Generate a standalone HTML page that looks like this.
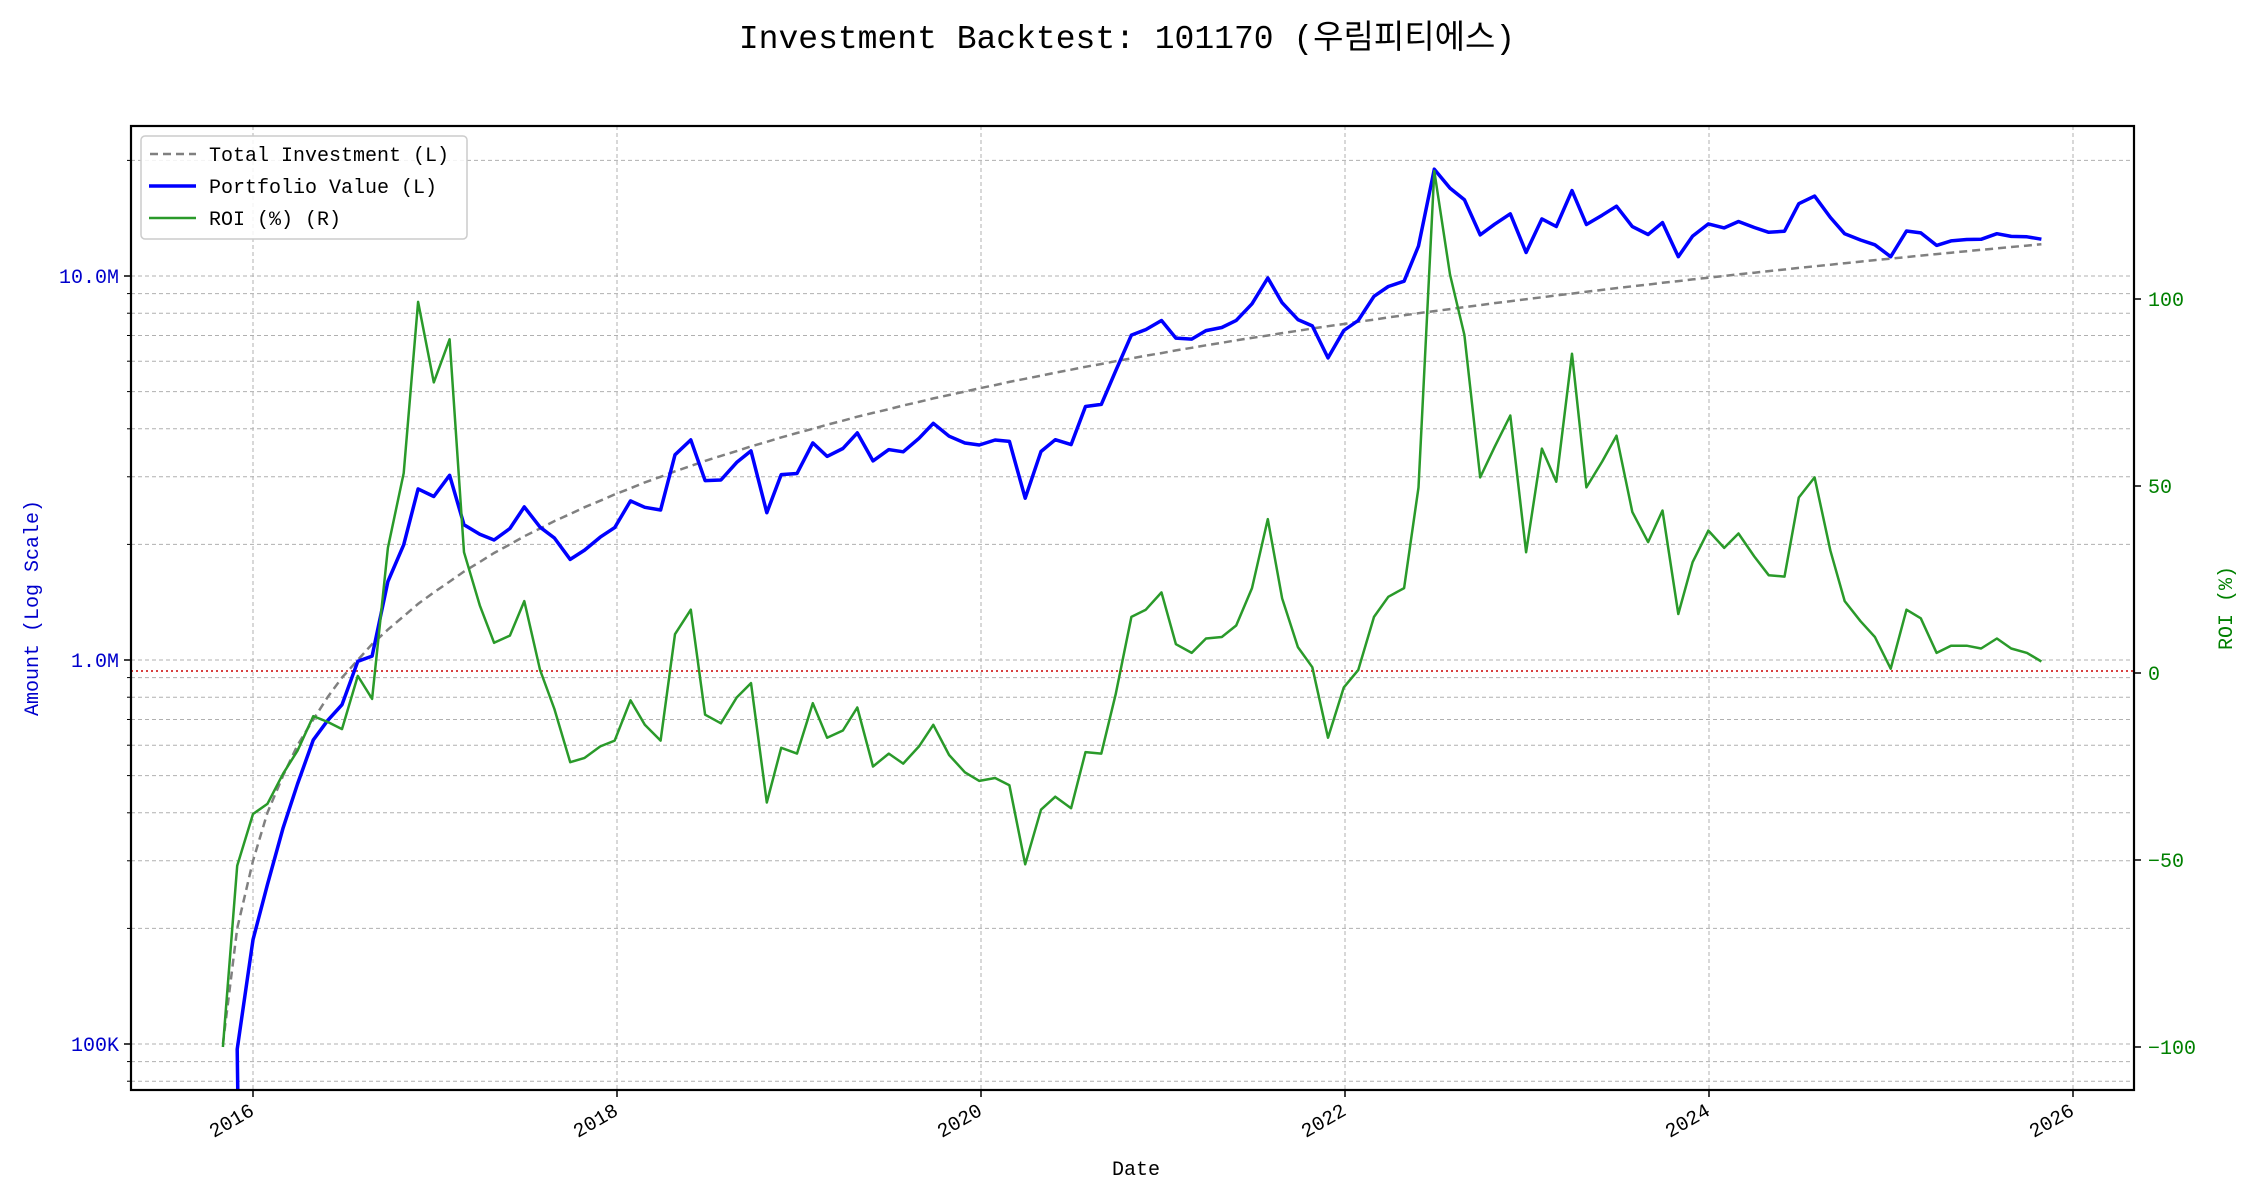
<!DOCTYPE html>
<html><head><meta charset="utf-8"><style>
html,body{margin:0;padding:0;background:#fff;overflow:hidden;width:2250px;height:1200px;}
svg{display:block;}
svg text{font-family:"Liberation Mono","Noto Sans CJK KR",monospace;}
</style></head><body>
<svg id="s" width="2250" height="1200" xmlns="http://www.w3.org/2000/svg">
<rect width="2250" height="1200" fill="#fff"/>
<text x="1127" y="48" font-size="33" text-anchor="middle" fill="#000">Investment Backtest: 101170 (우림피티에스)</text>
<defs><clipPath id="c"><rect x="131" y="126" width="2003" height="964"/></clipPath></defs>
<g id="grid"></g>
<g id="lines" clip-path="url(#c)"></g>
<rect x="131" y="126" width="2003" height="964" fill="none" stroke="#000" stroke-width="2.2"/>
<g id="ticks"></g>
<text x="1136" y="1175" font-size="20" text-anchor="middle">Date</text>
<text transform="translate(38,608) rotate(-90)" font-size="20" text-anchor="middle" fill="#0000cc">Amount (Log Scale)</text>
<text transform="translate(2232,608) rotate(-90)" font-size="20" text-anchor="middle" fill="#008000">ROI (%)</text>
<g>
<rect x="141" y="136" width="326" height="103" rx="4" fill="#fff" fill-opacity="0.85" stroke="#ccc" stroke-width="1.5"/>
<line x1="150" y1="154" x2="196" y2="154" stroke="#808080" stroke-width="2.5" stroke-dasharray="8,5"/>
<text x="209" y="161" font-size="20">Total Investment (L)</text>
<line x1="149" y1="186" x2="196" y2="186" stroke="#0000ff" stroke-width="3.5"/>
<text x="209" y="193" font-size="20">Portfolio Value (L)</text>
<line x1="149" y1="218" x2="196" y2="218" stroke="#2a9a2a" stroke-width="2.5"/>
<text x="209" y="225" font-size="20">ROI (%) (R)</text>
</g>
</svg>
<script>
var NS="http://www.w3.org/2000/svg";
function el(p,t,a,txt){var e=document.createElementNS(NS,t);for(var k in a)e.setAttribute(k,a[k]);if(txt!==undefined)e.textContent=txt;document.getElementById(p).appendChild(e);return e;}
var L=131,R=2134,T=126,B=1090;
function ly(v){return 276+(7-Math.log10(v))*384;}
function ry(r){return 673-r*3.74;}
function xd(d){return 253+(d-176)*1.4353;}
for(var yr=2016;yr<=2026;yr+=2){var x=253+(yr-2016)*182;
 el("grid","line",{x1:x,y1:T,x2:x,y2:B,stroke:"#b0b0b0","stroke-width":1,"stroke-dasharray":"4,3"});
 el("ticks","line",{x1:x,y1:B,x2:x,y2:B+7,stroke:"#000","stroke-width":1.5});
 el("ticks","text",{transform:"translate("+(x-4)+","+(B+13)+") rotate(-30)","font-size":20,"text-anchor":"end","dominant-baseline":"hanging"},String(yr));
}
for(var e=4;e<=7;e++)for(var m=1;m<=9;m++){var v=m*Math.pow(10,e),y=ly(v);if(y<T||y>B)continue;
 el("grid","line",{x1:L,y1:y,x2:R,y2:y,stroke:"#b0b0b0","stroke-width":1,"stroke-dasharray":"4,3"});
 el("ticks","line",{x1:L-(m==1?7:4),y1:y,x2:L,y2:y,stroke:"#000","stroke-width":m==1?1.5:1});
 if(m==1){el("ticks","text",{x:L-12,y:y+7,"font-size":20,"text-anchor":"end",fill:"#0000cc"},e==5?"100K":(e==6?"1.0M":"10.0M"));}
}
[-100,-50,0,50,100].forEach(function(r){var y=ry(r);
 el("ticks","line",{x1:R,y1:y,x2:R+7,y2:y,stroke:"#000","stroke-width":1.5});
 el("ticks","text",{x:R+14,y:y+7,"font-size":20,fill:"#008000"},r<0?"\u2212"+(-r):String(r));
});
el("lines","line",{x1:L,y1:671,x2:R,y2:671,stroke:"#cc0000","stroke-width":1.5,"stroke-dasharray":"2,3"});
var D=[[155,728],[165,601],[176,565],[186,558],[197,537],[207,521],[218,497],[228,501],[238,506],[249,469],[259,485],[270,380],[281,328],[291,209],[302,265],[313,235],[323,383],[334,420],[344,446],[355,441],[365,417],[376,465],[386,492],[397,529],[407,526],[418,518],[428,514],[439,486],[449,503],[460,514],[470,440],[481,423],[491,496],[502,502],[513,484],[523,474],[534,557],[544,519],[555,523],[566,488],[576,512],[587,507],[597,491],[608,532],[619,523],[629,530],[640,518],[650,503],[661,524],[672,536],[682,542],[693,540],[703,545],[714,600],[725,562],[735,553],[746,561],[756,522],[767,523],[777,482],[788,428],[798,423],[809,411],[819,447],[830,453],[840,443],[851,442],[861,434],[872,408],[883,360],[893,415],[904,449],[914,463],[925,512],[936,477],[946,465],[957,428],[967,414],[978,408],[988,338],[999,118],[1010,190],[1020,232],[1031,331],[1041,310],[1052,288],[1063,383],[1074,311],[1084,334],[1095,245],[1105,338],[1116,320],[1126,302],[1137,355],[1148,376],[1158,354],[1169,426],[1179,390],[1190,368],[1201,380],[1211,370],[1222,386],[1232,399],[1243,400],[1253,345],[1264,331],[1275,382],[1285,417],[1296,431],[1306,442],[1317,464],[1328,423],[1338,429],[1349,453],[1359,448],[1370,448],[1380,450],[1391,443],[1401,450],[1412,453],[1422,459]];
var pi=[],pv=[],pr=[];
D.forEach(function(p,i){var x=xd(p[0]),roi=(467-p[1])/2.6;if(i==0)roi=-100;
 var inv=100000*(i+1);pi.push(x.toFixed(1)+","+ly(inv).toFixed(1));
 var v=inv*(1+roi/100);
 if(v<=1000){pv.push((x+15).toFixed(1)+",1100");}else pv.push(x.toFixed(1)+","+ly(v).toFixed(1));
 pr.push(x.toFixed(1)+","+ry(roi).toFixed(1));});
el("lines","polyline",{points:pi.join(" "),fill:"none",stroke:"#808080","stroke-width":2.5,"stroke-dasharray":"8,5"});
el("lines","polyline",{points:pv.join(" "),fill:"none",stroke:"#0000ff","stroke-width":3.5,"stroke-linejoin":"round"});
el("lines","polyline",{points:pr.join(" "),fill:"none",stroke:"#2a9a2a","stroke-width":2.5,"stroke-linejoin":"round"});
</script>
</body></html>
